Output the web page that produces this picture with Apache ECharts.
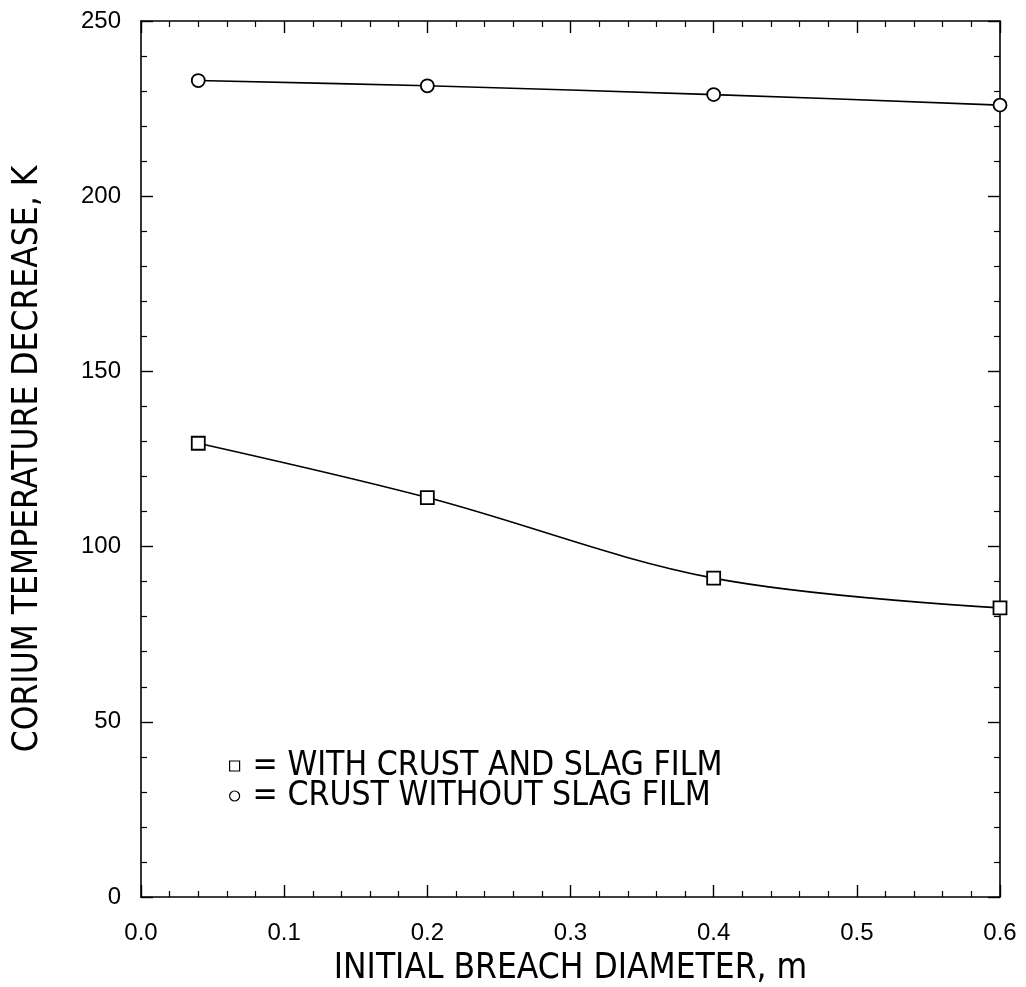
<!DOCTYPE html>
<html>
<head>
<meta charset="utf-8">
<script src="https://cdn.jsdelivr.net/npm/echarts@6/dist/echarts.min.js"></script>
<style>
  html, body { margin: 0; padding: 0; background: #fff; }
  #chart { width: 1026px; height: 987px; }
</style>
</head>
<body>
<div id="chart"></div>
<script>
// breach diameter (m) and temperature drop (K)
const diameters = [0.04, 0.2, 0.4, 0.6];
const withSlag = [129.5, 114, 91, 82.5];
const withoutSlag = [233, 231.5, 229, 226];
const seriesNames = ["WITH CRUST AND SLAG FILM", "CRUST WITHOUT SLAG FILM"];

const narrow = "'Liberation Sans Narrow', 'DejaVu Sans Condensed', 'Liberation Sans', sans-serif";
const plain = "'Liberation Sans', Arial, sans-serif";

function pairs(xs, ys) {
  return xs.map((x, i) => [x, ys[i]]);
}

const axisBase = {
  type: "value",
  axisLine: { show: true, onZero: false, lineStyle: { color: "#000", width: 1.6 } },
  axisTick: { show: true, inside: true, length: 12, lineStyle: { color: "#000", width: 1.4 } },
  minorTick: { show: true, splitNumber: 5, length: 6, lineStyle: { color: "#000", width: 1.2 } },
  splitLine: { show: false },
  minorSplitLine: { show: false },
};

const options = {
  animation: false,
  backgroundColor: "#fff",
  grid: { left: 141, right: 26, top: 21, bottom: 90, outerBoundsMode: "none" },
  legend: {
    left: 224,
    top: 744,
    orient: "vertical",
    itemGap: -4,
    itemWidth: 10,
    itemHeight: 10,
    formatter: "= {name}",
    textStyle: { fontFamily: narrow, fontSize: 33.5, color: "#000", padding: [0, 0, 0, 8] },
    data: [
      { name: seriesNames[0], icon: "rect" },
      { name: seriesNames[1], icon: "circle" },
    ],
    itemStyle: { color: "#fff", borderColor: "#000", borderWidth: 1.2 },
  },
  xAxis: [
    {
      ...axisBase,
      position: "bottom",
      min: 0,
      max: 0.6,
      interval: 0.1,
      name: "INITIAL BREACH DIAMETER, m",
      nameLocation: "middle",
      nameGap: 54,
      nameTextStyle: { fontFamily: narrow, fontSize: 35, color: "#000" },
      axisLabel: {
        margin: 24,
        fontFamily: plain,
        fontSize: 24,
        color: "#000",
        formatter: (v) => v.toFixed(1),
      },
    },
    {
      ...axisBase,
      position: "top",
      min: 0,
      max: 0.6,
      interval: 0.1,
      axisLabel: { show: false },
    },
  ],
  yAxis: [
    {
      ...axisBase,
      position: "left",
      min: 0,
      max: 250,
      interval: 50,
      name: "CORIUM TEMPERATURE DECREASE, K",
      nameLocation: "middle",
      nameGap: 96,
      nameTextStyle: { fontFamily: narrow, fontSize: 35, color: "#000" },
      axisLabel: { margin: 20, fontFamily: plain, fontSize: 24, color: "#000" },
    },
    {
      ...axisBase,
      position: "right",
      min: 0,
      max: 250,
      interval: 50,
      axisLabel: { show: false },
    },
  ],
  series: [
    {
      name: seriesNames[0],
      type: "line",
      smooth: 0.35,
      data: pairs(diameters, withSlag),
      symbol: "rect",
      symbolSize: 13,
      itemStyle: { color: "#fff", borderColor: "#000", borderWidth: 1.8 },
      lineStyle: { color: "#000", width: 1.6 },
    },
    {
      name: seriesNames[1],
      type: "line",
      smooth: 0.35,
      data: pairs(diameters, withoutSlag),
      symbol: "circle",
      symbolSize: 13,
      itemStyle: { color: "#fff", borderColor: "#000", borderWidth: 1.8 },
      lineStyle: { color: "#000", width: 1.6 },
    },
  ],
};

document.addEventListener("DOMContentLoaded", function () {
  const chart = echarts.init(document.getElementById("chart"));
  chart.setOption(options);
});
</script>
</body>
</html>
